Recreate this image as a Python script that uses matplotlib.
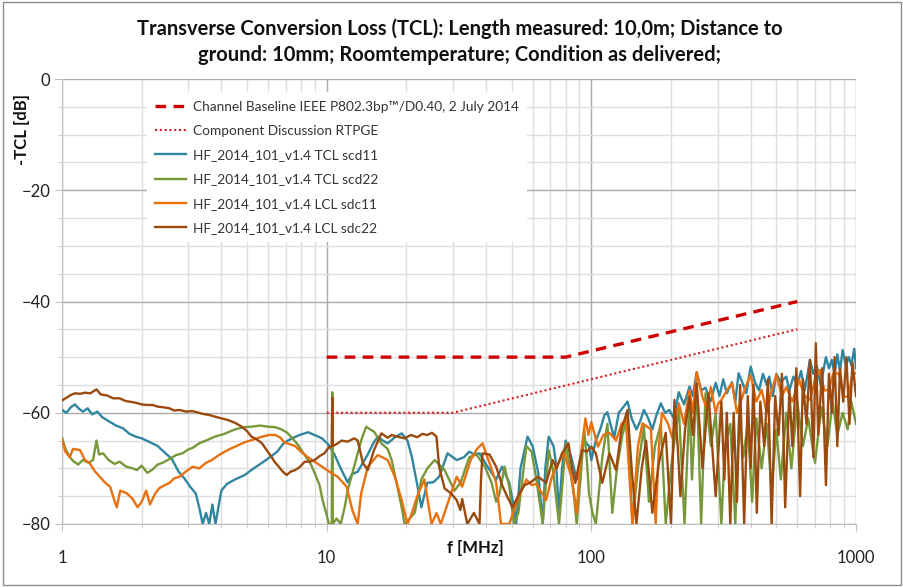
import numpy as np
import matplotlib
matplotlib.use("Agg")
import matplotlib.pyplot as plt
from matplotlib.ticker import LogLocator, MultipleLocator, FixedLocator, NullFormatter
from matplotlib.patches import Rectangle

plt.rcParams['font.family'] = ['Lato', 'DejaVu Sans']

# limit lines
base_f = [10, 80, 600]
base_db = [-50, -50, -40]
comp_f = [10, 30, 600]
comp_db = [-60, -60, -45]

# measured curves (f in MHz, dB)
scd11_f = [1.0, 1.04, 1.08, 1.12, 1.16, 1.2, 1.25, 1.3, 1.36, 1.42, 1.5, 1.6, 1.7, 1.8, 1.9, 2.0, 2.15, 2.3,
           2.45, 2.6, 2.75, 2.9, 3.05, 3.2, 3.3, 3.4, 3.5, 3.6, 3.7, 3.8, 3.9, 4.0, 4.2, 4.5, 4.9, 5.3, 5.7,
           6.1, 6.5, 6.9, 7.4, 7.9, 8.5, 9.0, 9.6, 10.1, 10.7, 11.3, 12.0, 12.5, 13.1, 13.7, 14.3, 15.0, 15.6,
           16.3, 17.0, 18.0, 19.2, 20.2, 21.0, 22.0, 22.8, 24.0, 25.3, 26.6, 27.8, 28.6, 30.0, 31.0, 33.0,
           34.6, 36.0, 37.8, 40.5, 43.7, 46.0, 49.0, 51.0, 52.0, 54.0, 57.4, 60.0, 63.0, 65.5, 67.0, 69.0,
           72.0, 73.5, 75.5, 77.5, 80.0, 84.0, 88.0, 91.0, 94.0, 98.0, 100, 104, 108, 112, 115, 118, 122,
           127, 132, 137, 142, 148, 153, 158, 164, 170, 176, 183, 190, 197, 205, 214, 224, 235, 242, 250,
           260, 270, 282, 295, 305, 315, 325, 340, 350, 360, 375, 385, 400, 415, 430, 445, 460, 470, 485,
           500, 520, 545, 560, 580, 600, 620, 640, 670, 690, 710, 735, 770, 790, 810, 830, 850, 870, 890,
           915, 940, 960, 985, 1000]
scd11_db = [-59.5, -60, -59, -58.5, -59.3, -59.8, -59.2, -60.3, -59.8, -60.8, -61.5, -62.3, -62.8, -63.8,
            -64.3, -64.6, -65.3, -66, -67.2, -68.3, -70.5, -71.8, -73.3, -74.5, -77, -80, -78, -80, -76.5,
            -80, -77, -74, -72.8, -72, -71.2, -70, -69, -68, -67, -65.4, -64.6, -64, -63.5, -64, -64.6,
            -65.6, -67.5, -70, -72.5, -71, -70.6, -69, -67.5, -65.5, -64.3, -65, -65.5, -64.5, -63.7, -65,
            -68, -73, -77, -72.6, -72.5, -71.5, -69, -67.3, -68, -68.5, -68, -67, -67.5, -67.3, -69.7, -72,
            -69.7, -72.6, -77, -80, -70, -64.3, -66, -70.8, -80, -70, -64.3, -66, -69, -78, -70, -65, -68,
            -72, -68, -65, -66, -68.5, -65, -63, -60.5, -59.9, -62, -64.5, -60, -59, -58, -61, -63, -61.5,
            -59.5, -61, -63, -60.5, -58.3, -60, -59.5, -61, -56.3, -58.5, -55.3, -57, -52.7, -56, -55.5,
            -58, -54.6, -57, -54, -56.5, -54.5, -58, -52.9, -55, -56.5, -51.7, -54.5, -56, -53, -55, -53.5,
            -57, -53, -54.5, -53.5, -56, -53.5, -55, -52.5, -56, -50.5, -53, -51.5, -55, -50, -52, -50.5,
            -53, -49.5, -52.5, -48.7, -51.5, -50, -51.5, -48.5, -52]

scd22_f = [1.0, 1.03, 1.07, 1.11, 1.15, 1.2, 1.26, 1.31, 1.35, 1.38, 1.43, 1.5, 1.58, 1.65, 1.75, 1.85,
           1.92, 2.0, 2.1, 2.2, 2.3, 2.4, 2.55, 2.7, 2.85, 3.0, 3.12, 3.3, 3.5, 3.78, 4.1, 4.5, 4.85, 5.2,
           5.6, 6.0, 6.4, 6.75, 7.1, 7.4, 7.8, 8.26, 8.7, 9.0, 9.4, 9.65, 9.95, 10.2, 10.45, 10.5, 10.55,
           10.9, 11.3, 11.7, 12.0, 12.7, 13.5, 14.1, 14.6, 15.1, 16.1, 17.0, 17.6, 18.5, 19.2, 19.7, 20.6,
           21.5, 22.8, 24.0, 25.6, 27.9, 30.4, 32.0, 34.6, 36.8, 39.6, 42.0, 43.7, 45.0, 47.0, 49.0, 51.0,
           53.0, 56.8, 59.5, 62.0, 65.5, 69.0, 71.5, 73.5, 75.5, 78.0, 80.0, 83.0, 86.0, 88.0, 91.0, 94.0,
           96.0, 98.0, 101, 104, 110, 115, 120, 125, 131, 137, 143, 150, 158, 165, 174, 183, 191, 200, 214,
           225, 235, 240, 250, 260, 270, 283, 295, 310, 320, 335, 350, 362, 375, 390, 405, 420, 440, 460,
           480, 500, 520, 545, 570, 600, 630, 660, 700, 740, 780, 815, 850, 890, 930, 960, 1000]
scd22_db = [-64.5, -66.5, -68, -68.8, -69.3, -68.5, -69, -68.5, -65, -67.5, -67.3, -68.5, -69.2, -68.8,
            -69.7, -70, -70.3, -69.5, -70.8, -70.2, -69.3, -69, -68.3, -67.6, -67.3, -66.6, -66.3, -65.5,
            -65, -64.3, -63.8, -63, -62.6, -62.5, -62.3, -62.5, -62.6, -63, -63.6, -64.5, -65.8, -67.6,
            -69.2, -70.8, -73, -75.7, -78, -80, -80, -56.3, -80, -79, -80, -77, -74, -69.7, -65, -62.5, -63,
            -63.4, -65.5, -66.5, -68.5, -73.3, -77, -80, -79, -78, -72, -70, -68.5, -70.3, -74, -72.6, -68,
            -67.5, -69.7, -72.6, -76, -74.5, -69.7, -73.3, -80, -78, -66, -67, -72, -80, -66.7, -70, -75,
            -80, -72, -65.5, -70, -75, -80, -72, -63, -68, -74.5, -78, -80, -68, -62, -78, -70, -64, -60.8,
            -80, -70, -62.5, -76, -66, -62, -80, -70, -59, -80, -57.7, -72, -54.7, -80, -56.5, -66, -60,
            -80, -66, -62, -80, -60, -68, -62, -76, -61, -70, -62, -74, -63, -72, -60, -70, -58, -66, -61,
            -69, -59, -66, -58, -64, -60, -63, -58, -62]

sdc11_f = [1.0, 1.03, 1.07, 1.1, 1.17, 1.22, 1.27, 1.33, 1.39, 1.45, 1.52, 1.57, 1.61, 1.66, 1.76, 1.85,
           1.93, 2.0, 2.08, 2.15, 2.25, 2.34, 2.45, 2.55, 2.65, 2.78, 2.95, 3.12, 3.3, 3.5, 3.68, 3.95,
           4.23, 4.55, 4.9, 5.3, 5.7, 6.05, 6.4, 6.7, 6.9, 7.6, 8.0, 8.5, 9.0, 9.6, 10.4, 11.0, 11.9, 12.5,
           13.1, 13.5, 14.3, 15.6, 17.0, 18.1, 19.2, 20.2, 21.0, 22.0, 23.4, 24.9, 26.0, 27.0, 29.5, 31.0,
           32.5, 35.0, 37.0, 38.8, 41.2, 43.7, 45.6, 49.0, 52.6, 56.8, 59.5, 62.0, 67.5, 70.5, 73.5, 79.0,
           84.6, 88.0, 91.0, 95.0, 97.5, 100, 106, 111, 117, 124, 130, 135, 143, 150, 156, 168, 175, 180,
           185, 195, 202, 214, 224, 235, 242, 250, 263, 272, 283, 295, 302, 310, 325, 340, 355, 372, 385,
           400, 420, 440, 460, 480, 500, 525, 545, 575, 610, 640, 670, 700, 730, 760, 790, 820, 860, 900,
           935, 970, 1000]
sdc11_db = [-64.8, -67, -68, -66.5, -66.7, -68.5, -69, -70.5, -71.5, -72.5, -73.3, -75.5, -77, -74, -74.5,
            -75.5, -77, -76, -74, -76.5, -74.5, -73.5, -73, -72.6, -71.8, -71.5, -70.5, -69.7, -70, -69,
            -68.5, -67.5, -66.7, -66, -65.3, -64.8, -64.3, -64, -64, -64.5, -65.3, -66, -67, -68, -68.8,
            -69.7, -70.8, -71.5, -73.3, -77.5, -80, -74.5, -69.7, -67.6, -68.5, -71.5, -75.7, -80, -78, -75,
            -72, -80, -78, -80, -74.5, -71.5, -73.3, -68.5, -66.5, -65.5, -69, -72.6, -80, -80, -75.7, -72,
            -73, -72.8, -75.7, -72, -69.7, -67.3, -72, -78, -68, -61, -64, -61.7, -66.1, -64, -63.6, -65,
            -62, -61.3, -80, -66, -61.9, -63, -80, -66, -60, -62, -64.5, -58.3, -62, -55.9, -60, -52.7,
            -57.2, -59, -55.4, -60, -58.3, -57.7, -56, -54.7, -60, -57.2, -55, -53.2, -58, -55.9, -60, -56,
            -53.2, -57, -55.4, -58, -54.1, -57, -57.7, -54, -52.3, -56, -55.9, -53, -52.9, -57, -57.2, -53,
            -52.9]

sdc22_f = [1.0, 1.04, 1.08, 1.12, 1.17, 1.22, 1.28, 1.35, 1.4, 1.48, 1.56, 1.65, 1.74, 1.8, 1.9, 2.0,
           2.09, 2.2, 2.3, 2.4, 2.55, 2.65, 2.78, 2.95, 3.1, 3.23, 3.4, 3.6, 3.78, 4.0, 4.23, 4.5, 4.78,
           5.0, 5.2, 5.45, 5.7, 5.95, 6.2, 6.4, 6.6, 6.8, 7.06, 7.3, 7.6, 7.9, 8.26, 8.6, 9.0, 9.4, 9.8,
           10.2, 10.45, 10.5, 10.55, 11.0, 11.4, 12.0, 12.7, 13.1, 13.7, 14.3, 15.1, 16.1, 17.0, 17.6, 18.5,
           19.7, 20.8, 22.0, 23.0, 24.0, 25.0, 26.0, 26.6, 27.9, 29.5, 31.0, 32.0, 32.5, 34.0, 36.0, 37.8,
           38.3, 38.8, 41.2, 43.7, 46.0, 48.0, 50.4, 53.5, 56.0, 58.5, 63.0, 67.5, 71.4, 74.0, 77.5, 82.0,
           84.5, 87.0, 90.0, 92.5, 96.0, 100, 104, 110, 117, 124, 130, 137, 142, 148, 155, 161, 170, 180,
           191, 200, 206, 212, 217, 226, 235, 242, 250, 263, 277, 295, 310, 318, 325, 335, 345, 355, 365,
           378, 390, 400, 410, 422, 435, 450, 465, 480, 495, 510, 525, 540, 560, 575, 595, 615, 630, 650,
           670, 690, 705, 720, 745, 770, 790, 810, 830, 850, 870, 895, 920, 945, 970, 1000]
sdc22_db = [-57.8, -57.3, -56.8, -56.5, -56.6, -56.4, -56.5, -55.8, -56.7, -56.9, -57.4, -57.4, -57.9, -58,
            -58.2, -58.5, -58.6, -58.6, -58.9, -59, -59.2, -59.6, -59.5, -59.8, -59.7, -59.9, -60.2, -60.4,
            -60.7, -61, -61.3, -61.8, -62.5, -63.3, -64.3, -64.8, -65.5, -66.8, -68, -69, -69.7, -70.5,
            -71.2, -70.6, -70.3, -69.8, -68.8, -68.8, -68.5, -67.8, -67.3, -66.2, -66, -57.3, -66, -65.5,
            -65, -65.2, -64.6, -65, -69, -70.3, -66.7, -63.7, -64.5, -64, -64.3, -64.6, -64, -64.4, -63.8,
            -64, -63.6, -64.3, -69.7, -73.6, -74.5, -75.7, -77.5, -75.5, -80, -78, -80, -72, -67.3, -67.5,
            -69.7, -73, -75, -77, -74.5, -73, -72.6, -71.5, -72.6, -68.5, -70, -67.3, -65.5, -70, -72.6,
            -69, -66.7, -67, -66.1, -67.3, -72.6, -67.3, -70.3, -63, -59.5, -70, -80, -70, -65, -78, -69,
            -63.6, -80, -57.7, -66, -75, -63, -57.2, -64, -54.7, -70, -56.5, -75, -58, -72, -60, -80, -60,
            -76, -55, -80, -57, -70, -55, -78, -58, -66, -54, -80, -57, -64, -53, -77, -56, -66, -52, -75,
            -54, -62, -50.5, -68, -47.5, -64, -52, -73, -53, -60, -50, -66, -52, -58, -50, -62, -51, -57]

labels = ["Channel Baseline IEEE P802.3bp\u2122/D0.40, 2 July 2014",
          "Component Discussion RTPGE",
          "HF_2014_101_v1.4 TCL scd11",
          "HF_2014_101_v1.4 TCL scd22",
          "HF_2014_101_v1.4 LCL sdc11",
          "HF_2014_101_v1.4 LCL sdc22"]

fig = plt.figure(figsize=(9.04, 5.87), dpi=100)
ax = fig.add_axes([62/904, 1-524/587, (856-62)/904, (524-79)/587])

ax.plot(base_f, base_db, color='#CC0000', lw=2.4, ls=(0, (3.2, 2.2)), label=labels[0], zorder=6)
ax.plot(comp_f, comp_db, color='#D42020', lw=1.5, ls=(0, (1, 1.3)), label=labels[1], zorder=6)
ax.plot(scd11_f, scd11_db, color='#31869F', lw=1.7, label=labels[2], zorder=3)
ax.plot(scd22_f, scd22_db, color='#77983A', lw=1.7, label=labels[3], zorder=3)
ax.plot(sdc11_f, sdc11_db, color='#E8700F', lw=1.7, label=labels[4], zorder=4)
ax.plot(sdc22_f, sdc22_db, color='#9A4A0E', lw=1.7, label=labels[5], zorder=5)

ax.set_xscale('log')
ax.set_xlim(1, 1000)
ax.set_ylim(-80, 0)
ax.xaxis.set_major_locator(FixedLocator([1, 10, 100, 1000]))
ax.xaxis.set_major_formatter(matplotlib.ticker.FuncFormatter(lambda v, p: '%d' % v))
ax.xaxis.set_minor_locator(LogLocator(base=10, subs=np.arange(2, 10)))
ax.xaxis.set_minor_formatter(NullFormatter())
ax.yaxis.set_major_locator(MultipleLocator(20))
ax.yaxis.set_minor_locator(MultipleLocator(5))

ax.grid(which='major', color='#ABABAB', lw=1.0, zorder=0)
ax.grid(which='minor', color='#DEDEDE', lw=1.0, zorder=0)
ax.set_axisbelow(True)
for s in ['top', 'right']:
    ax.spines[s].set_visible(False)
for s in ['left', 'bottom']:
    ax.spines[s].set_color('#BFBFBF')
ax.tick_params(which='major', length=5, color='#BFBFBF', labelsize=12, labelcolor='#222222')
ax.tick_params(which='minor', length=3, color='#BFBFBF')
ax.tick_params(axis='x', which='major', pad=14)

leg = ax.legend(loc='upper left', bbox_to_anchor=(0.098, 0.985), fontsize=9.8, frameon=True,
                facecolor='white', edgecolor='none', framealpha=1, handlelength=2.3,
                handletextpad=0.5, labelspacing=0.9, borderpad=0.6)
leg.set_zorder(7)
for t in leg.get_texts():
    t.set_color('#333333')

fig.text(460/904, 1-42/587,
         "Transverse Conversion Loss (TCL): Length measured: 10,0m; Distance to\n"
         "ground: 10mm; Roomtemperature; Condition as delivered;",
         ha='center', va='center', fontsize=14.5, fontweight='bold', linespacing=1.4, color='#111111')
fig.text(22/904, 1-130/587, "-TCL [dB]", rotation=90, ha='center', va='center',
         fontsize=12, fontweight='bold', color='#111111')
fig.text(475/904, 1-548/587, "f [MHz]", ha='center', va='center',
         fontsize=12, fontweight='bold', color='#111111')

fig.patches.append(Rectangle((0.003, 0.003), 0.994, 0.994, transform=fig.transFigure,
                             fill=False, edgecolor='#8C8C8C', lw=1.0))

fig.savefig('out.png', dpi=100)
